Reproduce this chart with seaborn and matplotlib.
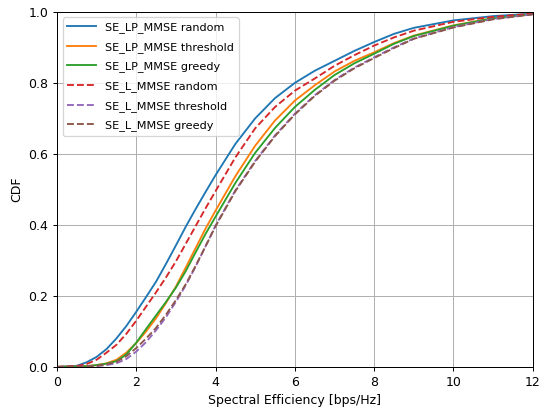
import matplotlib
matplotlib.use('Agg')
import matplotlib.pyplot as plt
import pandas as pd
import seaborn as sns

# spectral efficiency grid [bps/Hz] at which the CDFs were read
SE = [0, 0.5, 0.75, 1, 1.25, 1.5, 1.75, 2, 2.25, 2.5, 2.75, 3, 3.25, 3.5, 3.75, 4,
      4.5, 5, 5.5, 6, 6.5, 7, 7.5, 8, 8.5, 9, 10, 11, 12]

LP_RANDOM = [0, 0.003, 0.013, 0.028, 0.05, 0.08, 0.115, 0.155, 0.197, 0.24, 0.29, 0.342,
             0.395, 0.445, 0.493, 0.54, 0.628, 0.7, 0.757, 0.8, 0.834, 0.862, 0.89,
             0.915, 0.938, 0.955, 0.976, 0.988, 0.995]
LP_THRESHOLD = [0, 0.001, 0.002, 0.005, 0.01, 0.02, 0.04, 0.067, 0.1, 0.137, 0.18, 0.226,
                0.28, 0.335, 0.39, 0.44, 0.537, 0.623, 0.694, 0.75, 0.793, 0.832, 0.862,
                0.886, 0.912, 0.933, 0.962, 0.982, 0.994]
LP_GREEDY = [0, 0.001, 0.002, 0.005, 0.009, 0.016, 0.035, 0.068, 0.107, 0.145, 0.183, 0.223,
             0.27, 0.323, 0.375, 0.423, 0.518, 0.603, 0.673, 0.732, 0.78, 0.822, 0.855,
             0.882, 0.91, 0.932, 0.961, 0.982, 0.994]
L_RANDOM = [0, 0.002, 0.008, 0.02, 0.04, 0.062, 0.093, 0.13, 0.17, 0.21, 0.252, 0.297,
            0.347, 0.397, 0.447, 0.495, 0.59, 0.672, 0.732, 0.778, 0.812, 0.848, 0.878,
            0.905, 0.928, 0.947, 0.972, 0.986, 0.995]
L_THRESHOLD = [0, 0, 0.001, 0.002, 0.005, 0.01, 0.022, 0.043, 0.07, 0.103, 0.14, 0.183,
               0.23, 0.283, 0.34, 0.398, 0.497, 0.58, 0.652, 0.713, 0.765, 0.808, 0.843,
               0.872, 0.9, 0.925, 0.957, 0.98, 0.993]
L_GREEDY = [0, 0, 0.001, 0.003, 0.007, 0.014, 0.03, 0.053, 0.08, 0.11, 0.147, 0.188,
            0.233, 0.285, 0.34, 0.396, 0.495, 0.578, 0.65, 0.711, 0.763, 0.806, 0.841,
            0.87, 0.898, 0.924, 0.956, 0.979, 0.993]

SERIES = [
    ("SE_LP_MMSE random", LP_RANDOM, "#1f77b4", "-"),
    ("SE_LP_MMSE threshold", LP_THRESHOLD, "#ff7f0e", "-"),
    ("SE_LP_MMSE greedy", LP_GREEDY, "#2ca02c", "-"),
    ("SE_L_MMSE random", L_RANDOM, "#d62728", "--"),
    ("SE_L_MMSE threshold", L_THRESHOLD, "#9467bd", "--"),
    ("SE_L_MMSE greedy", L_GREEDY, "#8c564b", "--"),
]

DPI = 90
fig, ax = plt.subplots(figsize=(542 / DPI, 409 / DPI), dpi=DPI)
fig.subplots_adjust(left=0.105, right=0.983, top=0.971, bottom=0.103)

for name, values, color, ls in SERIES:
    df = pd.DataFrame({"se": SE, "cdf": values})
    sns.lineplot(data=df, x="se", y="cdf", ax=ax, color=color, linestyle=ls,
                 linewidth=1.5, label=name)

ax.set_xlim(0, 12)
ax.set_ylim(0, 1)
ax.set_xticks(range(0, 13, 2))
ax.grid(True, color="#b0b0b0", linewidth=0.8)
ax.set_xlabel("Spectral Efficiency [bps/Hz]")
ax.set_ylabel("CDF")
ax.legend(loc="upper left", fontsize=9, handlelength=2.6, labelspacing=0.78)

plt.savefig("out.png", dpi=DPI)
